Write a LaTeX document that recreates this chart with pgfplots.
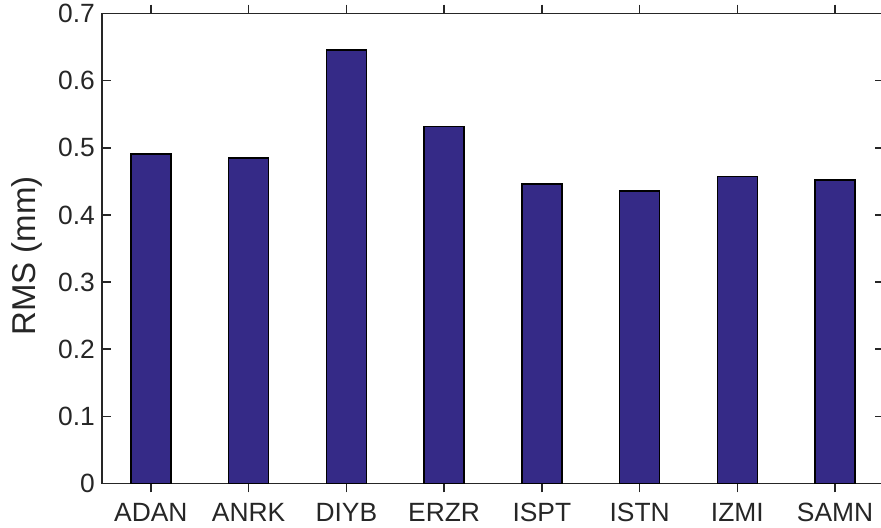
\documentclass[border=0pt]{standalone}
\usepackage{pgfplots}
\pgfplotsset{compat=1.18}
\usepackage{fontspec}
\setmainfont{Liberation Sans}
\definecolor{barc}{RGB}{53,42,135}
\definecolor{axc}{RGB}{38,38,38}
\begin{document}
\begin{tikzpicture}[font=\fontsize{13.2}{16}\selectfont]
\begin{axis}[
  scale only axis,
  width=391pt, height=234.8pt,
  xmin=0.5, xmax=8.5, ymin=0, ymax=0.7,
  xtick={1,2,3,4,5,6,7,8},
  xticklabels={ADAN,ANRK,DIYB,ERZR,ISPT,ISTN,IZMI,SAMN},
  ytick={0,0.1,0.2,0.3,0.4,0.5,0.6,0.7},
  yticklabels={0,0.1,0.2,0.3,0.4,0.5,0.6,0.7},
  tick align=inside,
  major tick length=4.5pt,
  axis line style={axc, line width=0.65pt},
  every tick/.style={axc, line width=0.65pt},
  every tick label/.append style={font=\fontsize{13.2}{16}\selectfont, text=axc},
  xticklabel style={yshift=-2pt},
  ylabel={RMS (mm)},
  every axis y label/.style={at={(axis description cs:-0.096,0.484)}, rotate=90, anchor=center, font=\fontsize{16.5}{19}\selectfont, text=axc},
  ybar, bar width=0.41,
]
\addplot[fill=barc, draw=black, line width=0.75pt] coordinates {
  (1,0.491) (2,0.485) (3,0.646) (4,0.532) (5,0.446) (6,0.436) (7,0.457) (8,0.452)
};
\coordinate (sw) at (rel axis cs:0,0);
\coordinate (ne) at (rel axis cs:1,1);
\end{axis}
\pgfresetboundingbox
\path[use as bounding box] ([xshift=-51pt,yshift=-22.35pt]sw) rectangle ([xshift=-1.5pt,yshift=6.85pt]ne);
\end{tikzpicture}
\end{document}
